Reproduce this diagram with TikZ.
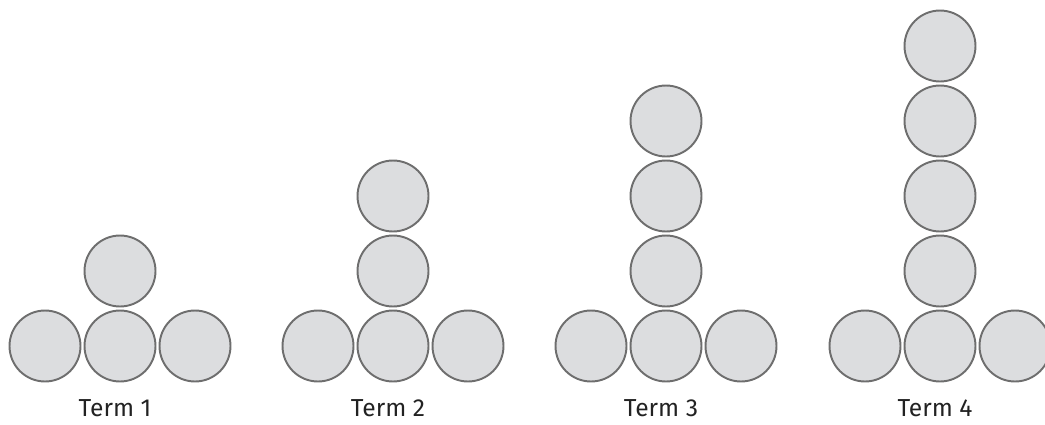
\documentclass[tikz,border=0pt]{standalone}
\usepackage{fontspec}
\setmainfont{Fira Sans}

\definecolor{ballfill}{HTML}{DCDDDF}
\definecolor{ballline}{HTML}{6E6E6E}
\definecolor{labeltext}{HTML}{222222}

\tikzset{
  ball/.style={circle, draw=ballline, fill=ballfill, line width=1.1pt,
    minimum size=1.42cm, inner sep=0pt},
  termlabel/.style={text=labeltext, font=\fontsize{14}{16}\selectfont}
}

\begin{document}
\begin{tikzpicture}[x=0.02cm,y=-0.02cm]
  % fix the visible area
  \useasboundingbox (0,0) rectangle (1045,424);

  % one term after the other: a row of three, a stack on the middle one
  \foreach \k/\cx in {1/120,2/393,3/666,4/940} {
    \foreach \i/\dx in {l/-75,m/0,r/75}
      \node [ball] (t\k-\i) at (\cx+\dx,346) {};
    \foreach \j in {1,...,\k}
      \node [ball] (t\k-s\j) at (\cx,346-75*\j) {};
    % the caption under the row
    \node [termlabel] (term\k) at (\cx-5,408) {Term \k};
  }
\end{tikzpicture}
\end{document}
